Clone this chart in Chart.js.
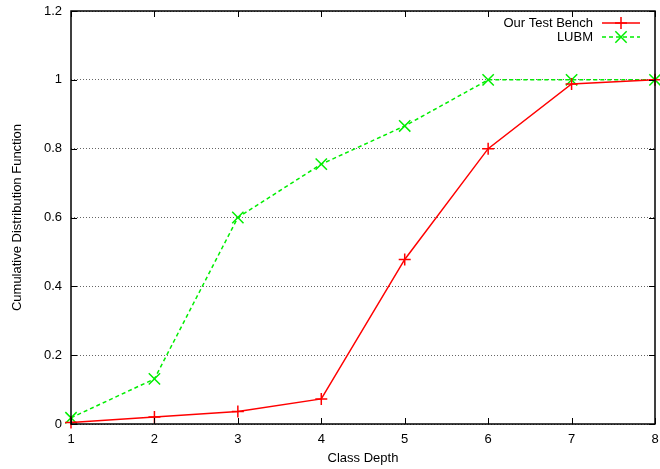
<!DOCTYPE html>
<html>
<head>
<meta charset="utf-8">
<script src="https://cdn.jsdelivr.net/npm/chart.js@4/dist/chart.umd.min.js"></script>
<style>
  html, body { margin: 0; padding: 0; background: #fff; overflow: hidden; }
  canvas { display: block; }
</style>
</head>
<body>
<canvas id="cdfChart" width="660" height="469"></canvas>
<script>
const classDepth = [1, 2, 3, 4, 5, 6, 7, 8];
const ourTestBench = [0.004, 0.02, 0.036, 0.073, 0.478, 0.80, 0.988, 1.0];
const lubm = [0.018, 0.131, 0.60, 0.755, 0.866, 1.0, 1.0, 1.0];
const yTicks = [0, 0.2, 0.4, 0.6, 0.8, 1, 1.2];
const seriesNames = ["Our Test Bench", "LUBM"];

const font = "Liberation Sans, Arial, sans-serif";

// gnuplot style: frame, inward ticks on all four sides, key in top right
const frameAndKey = {
  id: "frameAndKey",
  afterDatasetsDraw(chart) {
    const ctx = chart.ctx;
    const a = chart.chartArea;
    const xs = chart.scales.x;
    const ys = chart.scales.y;
    ctx.save();
    ctx.strokeStyle = "#000";
    ctx.lineWidth = 1.5;
    ctx.strokeRect(a.left, a.top, a.right - a.left, a.bottom - a.top);
    ctx.lineWidth = 1;
    ctx.beginPath();
    xs.ticks.forEach((t) => {
      const px = Math.round(xs.getPixelForValue(t.value)) + 0.5;
      ctx.moveTo(px, a.bottom);
      ctx.lineTo(px, a.bottom - 6);
      ctx.moveTo(px, a.top);
      ctx.lineTo(px, a.top + 6);
    });
    ys.ticks.forEach((t) => {
      const py = Math.round(ys.getPixelForValue(t.value)) + 0.5;
      ctx.moveTo(a.left, py);
      ctx.lineTo(a.left + 6, py);
      ctx.moveTo(a.right, py);
      ctx.lineTo(a.right - 6, py);
    });
    ctx.stroke();

    // key
    ctx.font = "13px " + font;
    ctx.textAlign = "right";
    ctx.textBaseline = "middle";
    chart.data.datasets.forEach((ds, i) => {
      const y = 23 + i * 14;
      ctx.fillStyle = "#000";
      ctx.fillText(ds.label, 593, y);
      ctx.strokeStyle = ds.borderColor;
      ctx.lineWidth = ds.borderWidth;
      ctx.setLineDash(ds.borderDash || []);
      ctx.beginPath();
      ctx.moveTo(602, y);
      ctx.lineTo(640, y);
      ctx.stroke();
      ctx.setLineDash([]);
      ctx.lineWidth = ds.pointBorderWidth;
      Chart.helpers.drawPoint(ctx, { pointStyle: ds.pointStyle, radius: ds.pointRadius, rotation: 0, borderWidth: ds.pointBorderWidth }, 621, y);
    });
    ctx.restore();
  },
};

new Chart(document.getElementById("cdfChart"), {
  type: "line",
  data: {
    datasets: [
      {
        label: seriesNames[0],
        data: classDepth.map((x, i) => ({ x: x, y: ourTestBench[i] })),
        borderColor: "#ff0000",
        backgroundColor: "#ff0000",
        borderWidth: 1.5,
        pointStyle: "cross",
        pointRadius: 6,
        pointBorderWidth: 1.5,
        tension: 0,
        clip: false,
      },
      {
        label: seriesNames[1],
        data: classDepth.map((x, i) => ({ x: x, y: lubm[i] })),
        borderColor: "#00ee00",
        backgroundColor: "#00ee00",
        borderWidth: 1.5,
        borderDash: [4, 3],
        pointStyle: "crossRot",
        pointRadius: 8,
        pointBorderWidth: 1.5,
        tension: 0,
        clip: false,
      },
    ],
  },
  options: {
    responsive: false,
    animation: false,
    layout: { autoPadding: false, padding: { left: 0, right: 5, top: 11, bottom: 0 } },
    plugins: {
      legend: { display: false },
      tooltip: { enabled: false },
    },
    scales: {
      x: {
        type: "linear",
        min: 1,
        max: 8,
        ticks: { stepSize: 1, color: "#000", padding: 8, font: { family: font, size: 13 } },
        grid: { display: false, drawTicks: false },
        border: { display: false },
        title: { display: true, text: "Class Depth", color: "#000", padding: { top: 4, bottom: 3 }, font: { family: font, size: 13 } },
        afterFit(scale) {
          scale.height = 45;
          scale.paddingLeft = 0;
          scale.paddingRight = 0;
        },
      },
      y: {
        min: 0,
        max: 1.2,
        afterBuildTicks(scale) { scale.ticks = yTicks.map((v) => ({ value: v })); },
        ticks: {
          color: "#000",
          padding: 9,
          font: { family: font, size: 13 },
          callback: (v) => String(+v.toFixed(1)),
        },
        grid: { color: "#666", lineWidth: 1, drawTicks: false },
        border: { display: false, dash: [1, 2] },
        title: { display: true, text: "Cumulative Distribution Function", color: "#000", padding: { top: 10, bottom: 4 }, font: { family: font, size: 13 } },
        afterFit(scale) {
          scale.width = 71;
          scale.paddingTop = 0;
          scale.paddingBottom = 0;
        },
      },
    },
  },
  plugins: [frameAndKey],
});
</script>
</body>
</html>
